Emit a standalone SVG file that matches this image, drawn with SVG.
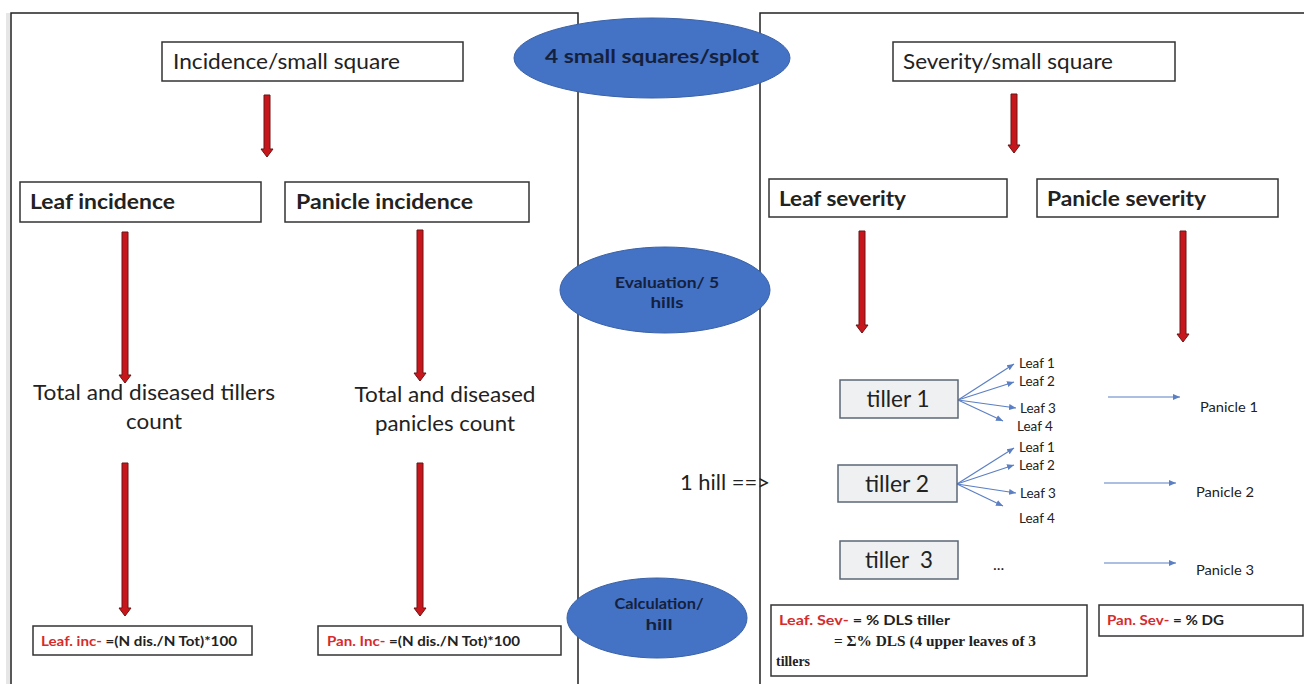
<svg xmlns="http://www.w3.org/2000/svg" width="1304" height="684" viewBox="0 0 1304 684">
<style>
.box{fill:#fff;stroke:#333;stroke-width:1.5}
.tb{fill:#eef0f2;stroke:#5b6775;stroke-width:1.5}
.t{font-family:Lato,"Liberation Sans",sans-serif;fill:#222}
.b{font-weight:bold}
.ell{fill:#4472c4;stroke:#3a62a8;stroke-width:1}
.et{font-family:Lato,"Liberation Sans",sans-serif;font-weight:bold;fill:#14213d;text-anchor:middle}
.ra{fill:#c8161d;stroke:#6b1414;stroke-width:1}
.bl{stroke:#5b7fc4;stroke-width:1.2;fill:none;marker-end:url(#ah)}
.red{fill:#d62b2b}
.sm{font-size:13.5px}
.ser{font-family:"Liberation Serif",serif;font-weight:bold;fill:#222;font-size:14px}
</style>
<defs>
<marker id="ah" markerWidth="8" markerHeight="8" refX="7" refY="4" orient="auto" markerUnits="userSpaceOnUse">
<path d="M0,1 L7,4 L0,7 Z" fill="#5b7fc4"/>
</marker>
</defs>
<rect x="0" y="0" width="1304" height="684" fill="#fff"/>
<rect x="6" y="13" width="4" height="671" fill="#e6e6e6"/>
<g id="panels">
<path d="M11,690 V13 H578 V690" fill="none" stroke="#222" stroke-width="1.5"/>
<path d="M760,690 V13 H1310" fill="none" stroke="#222" stroke-width="1.5"/>
</g>
<g id="connectors">
<path class="ra" d="M264,95 H270 V149 H273 L267,157 L261,149 H264 Z"/>
<path class="ra" d="M122,232 H128 V375 H131 L125,383 L119,375 H122 Z"/>
<path class="ra" d="M417,230 H423 V373 H426 L420,381 L414,373 H417 Z"/>
<path class="ra" d="M122,463 H128 V608 H131 L125,616 L119,608 H122 Z"/>
<path class="ra" d="M417,463 H423 V608 H426 L420,616 L414,608 H417 Z"/>
<path class="ra" d="M1011,94 H1017 V145 H1020 L1014,153 L1008,145 H1011 Z"/>
<path class="ra" d="M859,231 H865 V325 H868 L862,333 L856,325 H859 Z"/>
<path class="ra" d="M1180,231 H1186 V334 H1189 L1183,342 L1177,334 H1180 Z"/>
<path class="bl" d="M958,400 L1014,364"/>
<path class="bl" d="M958,400 L1014,382"/>
<path class="bl" d="M958,400 L1016,408"/>
<path class="bl" d="M958,400 L1003,421"/>
<path class="bl" d="M957,484 L1014,448"/>
<path class="bl" d="M957,484 L1014,465"/>
<path class="bl" d="M957,484 L1016,493"/>
<path class="bl" d="M957,484 L1003,506"/>
<path class="bl" d="M1108,397 L1180,397"/>
<path class="bl" d="M1104,483 L1176,483"/>
<path class="bl" d="M1104,563 L1176,563"/>
</g>
<g id="n-incidence"><rect class="box" x="162" y="42" width="301" height="39"/><text class="t" x="173" y="69" font-size="21" textLength="227" lengthAdjust="spacingAndGlyphs">Incidence/small square</text></g>
<g id="n-severity"><rect class="box" x="893" y="42" width="282" height="39"/><text class="t" x="903" y="69" font-size="21" textLength="210" lengthAdjust="spacingAndGlyphs">Severity/small square</text></g>
<g id="n-splot"><ellipse class="ell" cx="652" cy="58" rx="138" ry="40"/><text class="et" x="652" y="63" font-size="19" textLength="214" lengthAdjust="spacingAndGlyphs">4 small squares/splot</text></g>
<g id="n-leafinc"><rect class="box" x="20" y="182" width="241" height="40"/><text class="t b" x="30" y="209" font-size="21" textLength="145" lengthAdjust="spacingAndGlyphs">Leaf incidence</text></g>
<g id="n-paninc"><rect class="box" x="285" y="182" width="244" height="40"/><text class="t b" x="296" y="209" font-size="21" textLength="177" lengthAdjust="spacingAndGlyphs">Panicle incidence</text></g>
<g id="n-leafsev"><rect class="box" x="769" y="179" width="238" height="38"/><text class="t b" x="779" y="206" font-size="21" textLength="127" lengthAdjust="spacingAndGlyphs">Leaf severity</text></g>
<g id="n-pansev"><rect class="box" x="1037" y="179" width="241" height="38"/><text class="t b" x="1047" y="206" font-size="21" textLength="159" lengthAdjust="spacingAndGlyphs">Panicle severity</text></g>
<g id="n-eval"><ellipse class="ell" cx="665" cy="290" rx="105" ry="43"/><text class="et" x="667" y="288" font-size="15" textLength="104" lengthAdjust="spacingAndGlyphs">Evaluation/ 5</text><text class="et" x="667" y="308" font-size="15" textLength="33" lengthAdjust="spacingAndGlyphs">hills</text></g>
<g id="n-tillers"><text class="t" x="154" y="400" font-size="22" text-anchor="middle" textLength="242" lengthAdjust="spacingAndGlyphs">Total and diseased tillers</text><text class="t" x="154" y="429" font-size="22" text-anchor="middle" textLength="56" lengthAdjust="spacingAndGlyphs">count</text></g>
<g id="n-panicles"><text class="t" x="445" y="402" font-size="22" text-anchor="middle" textLength="181" lengthAdjust="spacingAndGlyphs">Total and diseased</text><text class="t" x="445" y="431" font-size="22" text-anchor="middle" textLength="140" lengthAdjust="spacingAndGlyphs">panicles count</text></g>
<g id="n-hill"><text class="t" x="680" y="490" font-size="22" textLength="90" lengthAdjust="spacingAndGlyphs">1 hill ==&gt;</text></g>
<g id="n-tiller1"><rect class="tb" x="840" y="380" width="118" height="38"/><text class="t" x="898" y="407" font-size="23" text-anchor="middle" textLength="63" lengthAdjust="spacingAndGlyphs">tiller 1</text></g>
<g id="n-tiller2"><rect class="tb" x="838" y="465" width="119" height="37"/><text class="t" x="897" y="492" font-size="23" text-anchor="middle" textLength="64" lengthAdjust="spacingAndGlyphs">tiller 2</text></g>
<g id="n-tiller3"><rect class="tb" x="840" y="541" width="118" height="38"/><text class="t" x="899" y="568" font-size="23" text-anchor="middle" xml:space="preserve" textLength="68" lengthAdjust="spacingAndGlyphs">tiller  3</text></g>
<g id="n-leaves1">
<text class="t sm" x="1019" y="368">Leaf 1</text><text class="t sm" x="1019" y="386">Leaf 2</text><text class="t sm" x="1020" y="413">Leaf 3</text><text class="t sm" x="1017" y="431">Leaf 4</text>
</g>
<g id="n-leaves2">
<text class="t sm" x="1019" y="452">Leaf 1</text><text class="t sm" x="1019" y="470">Leaf 2</text><text class="t sm" x="1020" y="498">Leaf 3</text><text class="t sm" x="1019" y="523">Leaf 4</text>
</g>
<g id="n-dots"><text class="t" x="993" y="570" font-size="16">...</text></g>
<g id="n-pan1"><text class="t sm" x="1200" y="412" textLength="58" lengthAdjust="spacingAndGlyphs">Panicle 1</text></g>
<g id="n-pan2"><text class="t sm" x="1196" y="497" textLength="58" lengthAdjust="spacingAndGlyphs">Panicle 2</text></g>
<g id="n-pan3"><text class="t sm" x="1196" y="575" textLength="58" lengthAdjust="spacingAndGlyphs">Panicle 3</text></g>
<g id="n-calc"><ellipse class="ell" cx="657" cy="618" rx="90" ry="40"/><text class="et" x="659" y="609" font-size="15" textLength="89" lengthAdjust="spacingAndGlyphs">Calculation/</text><text class="et" x="659" y="630" font-size="15" textLength="27" lengthAdjust="spacingAndGlyphs">hill</text></g>
<g id="n-leafincf"><rect class="box" x="33" y="626" width="219" height="29"/><text class="t b" x="41" y="646" font-size="14" textLength="196" lengthAdjust="spacingAndGlyphs"><tspan class="red">Leaf. inc-</tspan> =(N dis./N Tot)*100</text></g>
<g id="n-panincf"><rect class="box" x="318" y="626" width="243" height="29"/><text class="t b" x="327" y="646" font-size="14" textLength="193" lengthAdjust="spacingAndGlyphs"><tspan class="red">Pan. Inc-</tspan> =(N dis./N Tot)*100</text></g>
<g id="n-leafsevf"><rect class="box" x="771" y="605" width="316" height="71"/>
<text class="t b" x="779" y="625" font-size="14" textLength="171" lengthAdjust="spacingAndGlyphs"><tspan class="red">Leaf. Sev-</tspan> = % DLS tiller</text>
<text class="ser" x="834" y="646" textLength="202" lengthAdjust="spacingAndGlyphs">= Σ% DLS (4 upper leaves of 3</text>
<text class="ser" x="776" y="666" textLength="34" lengthAdjust="spacingAndGlyphs">tillers</text>
</g>
<g id="n-pansevf"><rect class="box" x="1099" y="605" width="204" height="31"/><text class="t b" x="1107" y="625" font-size="14" textLength="117" lengthAdjust="spacingAndGlyphs"><tspan class="red">Pan. Sev-</tspan> = % DG</text></g>
</svg>
